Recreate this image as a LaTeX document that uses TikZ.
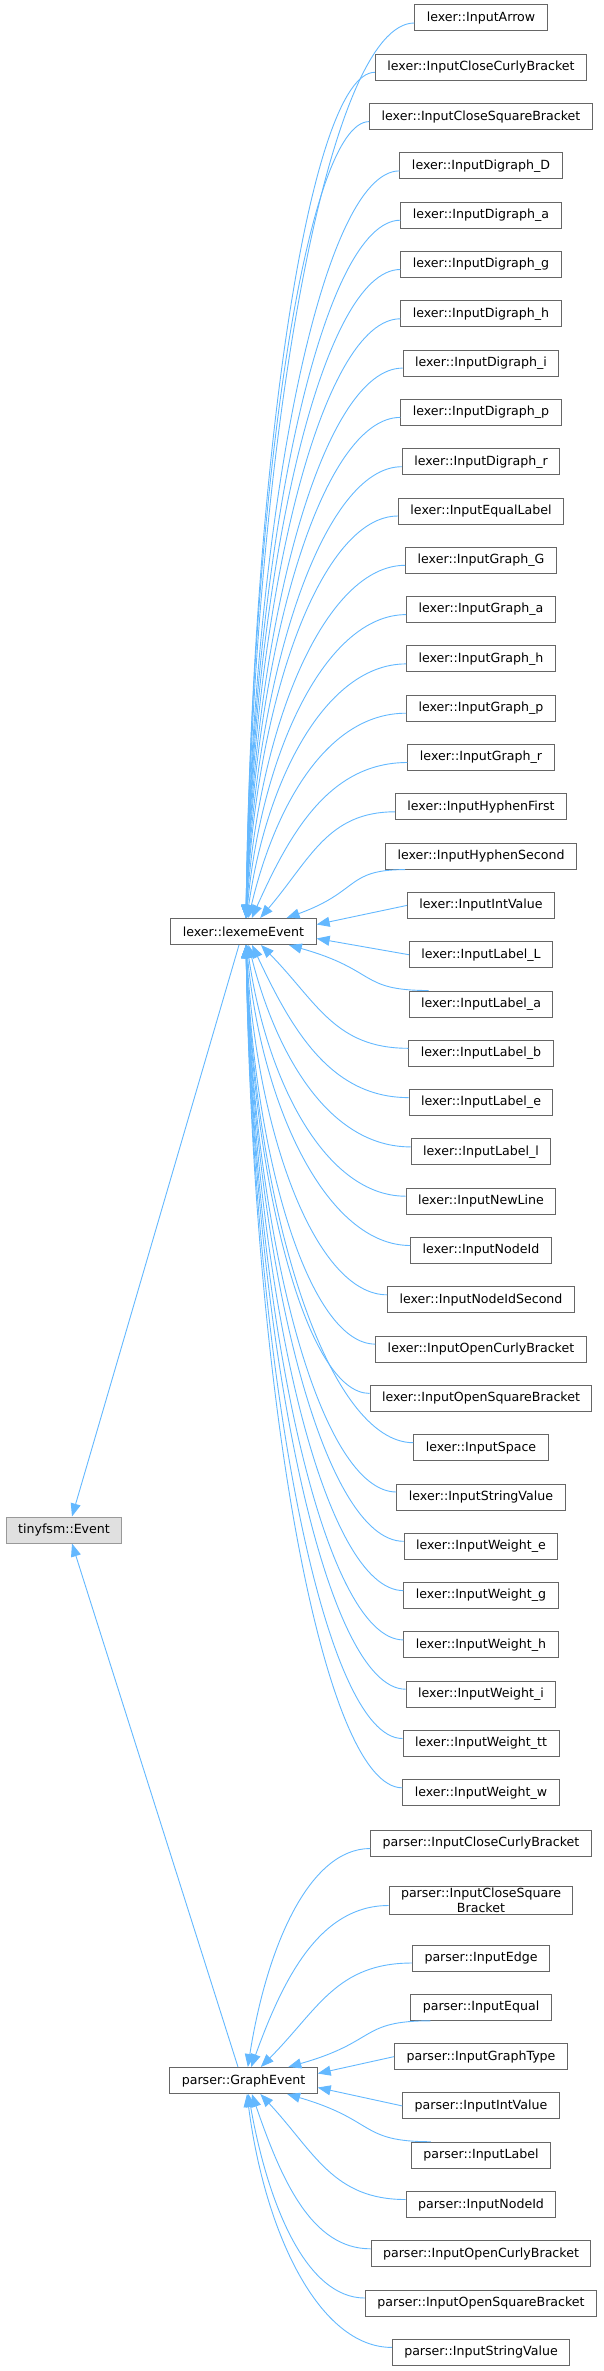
\documentclass[tikz,border=0pt]{standalone}
\usepackage{fontspec}
\setmainfont{DejaVu Sans}
\usetikzlibrary{arrows.meta,calc}
\definecolor{edgeblue}{HTML}{63B8FF}
\definecolor{boxgray}{HTML}{666666}
\definecolor{rootfill}{HTML}{E0E0E0}
\definecolor{rootgray}{HTML}{999999}
% curved inheritance edge: start point, parent node, parent side
\newcommand{\inheritedge}[3]{%
  \draw[edge] let \p1=(#1), \p2=(#2.center), \p3=(#2.#3),
      \n1={abs(\y1-\y2)},
      \n2={\x2+2.5+32*exp(-(\n1-75)/55)},
      \n3={0.05+0.5*exp(-(\n1-75)/100)}
    in (\p1) .. controls ({\x1-0.5*(\x1-\n2)},\y1) and ({\n2+\n3*(\x1-\n2)},{\y3+0.55*(\y1-\y3)}) .. (\n2,\y3);}
\begin{document}
\begin{tikzpicture}[x=1pt,y=1pt,
    cls/.style={draw=boxgray,fill=white,line width=1pt,minimum height=26pt,inner xsep=12pt,inner ysep=2pt,
      align=center,font=\fontsize{12.6}{14.5}\selectfont},
    root/.style={cls,draw=rootgray,fill=rootfill},
    edge/.style={draw=edgeblue,line width=0.9pt,-{Triangle[length=13pt,width=10pt,fill=edgeblue]}}]
\useasboundingbox (0,0) rectangle (603,-2371);
% bases
\node[root] (tfsm) at (64,-1530) {tinyfsm::Event};
\node[cls] (lex) at (243.5,-931.5) {lexer::lexemeEvent};
\node[cls] (graph) at (243.5,-2080.5) {parser::GraphEvent};
% lexer events
\foreach \name [count=\i from 0] in {InputArrow,InputCloseCurlyBracket,InputCloseSquareBracket,
    InputDigraph\_D,InputDigraph\_a,InputDigraph\_g,InputDigraph\_h,InputDigraph\_i,InputDigraph\_p,
    InputDigraph\_r,InputEqualLabel,InputGraph\_G,InputGraph\_a,InputGraph\_h,InputGraph\_p,InputGraph\_r,
    InputHyphenFirst,InputHyphenSecond,InputIntValue,InputLabel\_L,InputLabel\_a,InputLabel\_b,
    InputLabel\_e,InputLabel\_l,InputNewLine,InputNodeId,InputNodeIdSecond,InputOpenCurlyBracket,
    InputOpenSquareBracket,InputSpace,InputStringValue,InputWeight\_e,InputWeight\_g,InputWeight\_h,
    InputWeight\_i,InputWeight\_tt,InputWeight\_w}
  \node[cls] (l\i) at (481,{-18-49.3*\i}) {lexer::\name};
% parser events
\foreach \name/\y [count=\i] in {InputCloseCurlyBracket/1843.5,{InputCloseSquare\\Bracket}/1900.5,
    InputEdge/1958,InputEqual/2007.3,InputGraphType/2056.6,InputIntValue/2105.9,InputLabel/2155.2,
    InputNodeId/2204.5,InputOpenCurlyBracket/2253.8,InputOpenSquareBracket/2303,InputStringValue/2352.4}
  \node[cls] (p\i) at (481,-\y) {parser::\name};
% lexer edges
\foreach \i in {0,...,16} {\inheritedge{[yshift=-5pt]l\i.west}{lex}{north}}
\inheritedge{[xshift=20pt]l17.south west}{lex}{north}
\draw[edge] (l18.west) -- ([yshift=7pt]lex.east);
\draw[edge] (l19.west) -- ([yshift=-7pt]lex.east);
\inheritedge{[xshift=20pt]l20.north west}{lex}{south}
\foreach \i in {21,...,36} {\inheritedge{[yshift=5pt]l\i.west}{lex}{south}}
% parser edges
\foreach \i in {1,2,3} {\inheritedge{[yshift=-5pt]p\i.west}{graph}{north}}
\inheritedge{[xshift=20pt]p4.south west}{graph}{north}
\draw[edge] (p5.west) -- ([yshift=7pt]graph.east);
\draw[edge] (p6.west) -- ([yshift=-7pt]graph.east);
\inheritedge{[xshift=20pt]p7.north west}{graph}{south}
\foreach \i in {8,...,11} {\inheritedge{[yshift=5pt]p\i.west}{graph}{south}}
% to the root
\draw[edge] ([xshift=-4.5pt]lex.south) -- ([xshift=8pt]tfsm.north);
\draw[edge] ([xshift=-5.5pt]graph.north) -- ([xshift=8pt]tfsm.south);
\end{tikzpicture}
\end{document}
